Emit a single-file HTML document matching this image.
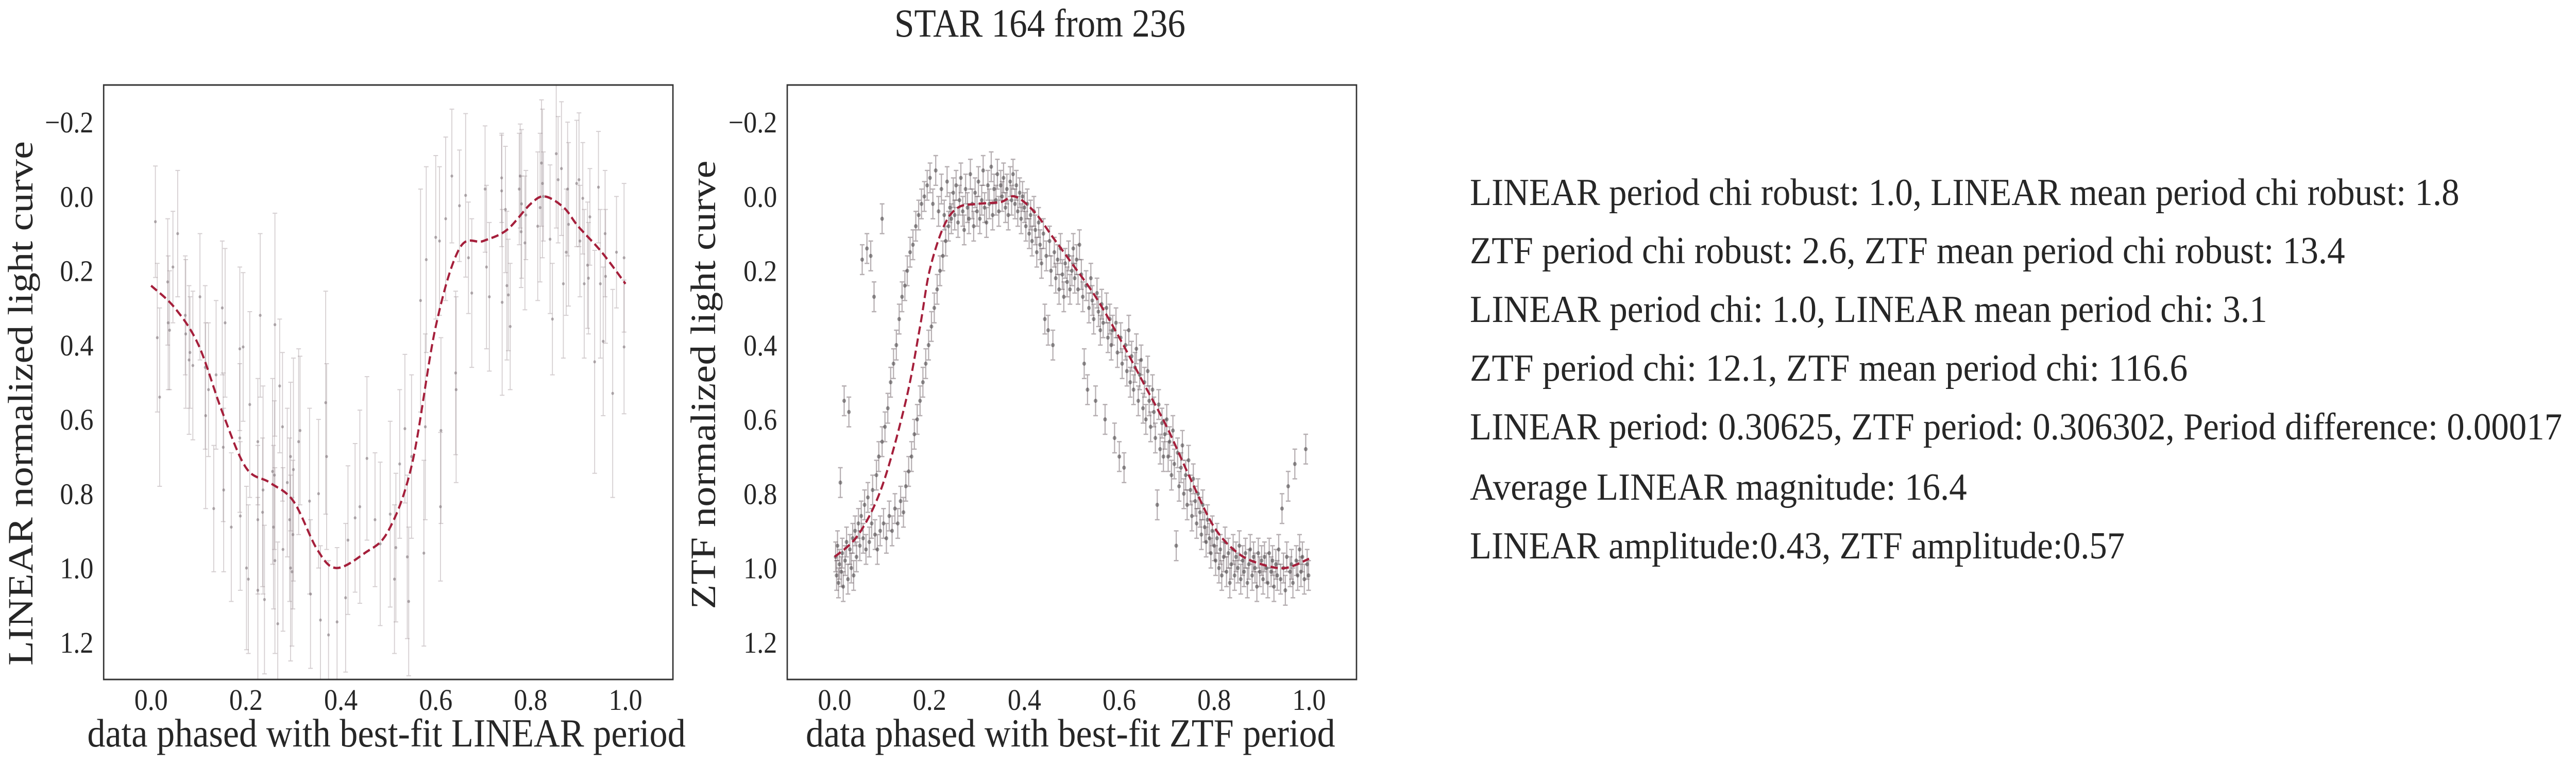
<!DOCTYPE html>
<html><head><meta charset="utf-8"><style>
html,body{margin:0;padding:0;background:#fff;overflow:hidden;width:100%;height:100%;}
svg{display:block;font-family:"Liberation Serif","DejaVu Serif",serif;width:100vw;height:100vh;}
</style></head><body>
<svg id="fig" viewBox="0 0 5566 1485" preserveAspectRatio="none" xmlns="http://www.w3.org/2000/svg">
<rect x="0" y="0" width="5566" height="1485" fill="#fff"/>
<text x="2247" y="71" font-size="77" text-anchor="middle" fill="#262626">STAR 164 from 236</text>
<g id="p1"></g>
<g id="p2"></g>
<g font-size="74" fill="#262626">
<text x="3176" y="398" textLength="2138" lengthAdjust="spacingAndGlyphs">LINEAR period chi robust: 1.0, LINEAR mean period chi robust: 1.8</text>
<text x="3176" y="511" textLength="1891" lengthAdjust="spacingAndGlyphs">ZTF period chi robust: 2.6, ZTF mean period chi robust: 13.4</text>
<text x="3176" y="625" textLength="1723" lengthAdjust="spacingAndGlyphs">LINEAR period chi: 1.0, LINEAR mean period chi: 3.1</text>
<text x="3176" y="739" textLength="1551" lengthAdjust="spacingAndGlyphs">ZTF period chi: 12.1, ZTF mean period chi: 116.6</text>
<text x="3176" y="853" textLength="2360" lengthAdjust="spacingAndGlyphs">LINEAR period: 0.30625, ZTF period: 0.306302, Period difference: 0.00017</text>
<text x="3176" y="970" textLength="1074" lengthAdjust="spacingAndGlyphs">Average LINEAR magnitude: 16.4</text>
<text x="3176" y="1084" textLength="1415" lengthAdjust="spacingAndGlyphs">LINEAR amplitude:0.43, ZTF amplitude:0.57</text>
</g>
</svg>
<script>
// ---------- data ----------
const xTicks = [0.0, 0.2, 0.4, 0.6, 0.8, 1.0];
const xTickLabels = ["0.0", "0.2", "0.4", "0.6", "0.8", "1.0"];
const yTicks = [-0.2, 0.0, 0.2, 0.4, 0.6, 0.8, 1.0, 1.2];
const yTickLabels = ["\u22120.2", "0.0", "0.2", "0.4", "0.6", "0.8", "1.0", "1.2"];

const linPhase = [0.009,0.013,0.018,0.035,0.036,0.039,0.046,0.056,0.072,0.073,0.08,0.082,0.088,0.103,0.114,0.115,0.121,0.132,0.137,0.15,0.152,0.153,0.156,0.169,0.187,0.187,0.188,0.194,0.201,0.205,0.208,0.225,0.225,0.225,0.23,0.235,0.236,0.239,0.256,0.258,0.26,0.261,0.261,0.267,0.271,0.278,0.277,0.287,0.292,0.294,0.294,0.297,0.299,0.3,0.311,0.314,0.334,0.336,0.353,0.357,0.368,0.37,0.374,0.392,0.41,0.415,0.43,0.44,0.455,0.472,0.483,0.504,0.513,0.516,0.524,0.535,0.54,0.543,0.549,0.568,0.575,0.578,0.58,0.6,0.608,0.61,0.611,0.621,0.634,0.642,0.643,0.65,0.663,0.669,0.676,0.704,0.707,0.713,0.739,0.739,0.747,0.74,0.75,0.753,0.757,0.776,0.778,0.78,0.781,0.788,0.79,0.815,0.82,0.823,0.825,0.827,0.841,0.846,0.854,0.858,0.865,0.869,0.875,0.878,0.88,0.897,0.902,0.904,0.91,0.913,0.92,0.922,0.925,0.935,0.943,0.947,0.953,0.957,0.958,0.973,0.981,0.997,0.997];
const linMag = [0.068,0.38,0.54,0.23,0.34,0.36,0.19,0.10,0.32,0.37,0.44,0.42,0.455,0.27,0.46,0.59,0.52,0.84,0.48,0.30,0.675,0.79,0.34,0.89,0.41,0.65,0.86,0.405,1.0,1.03,0.56,0.66,0.87,1.06,0.32,0.85,0.79,1.085,0.74,0.89,0.75,0.98,0.345,1.15,0.51,0.95,0.62,0.77,0.87,0.70,1.0,1.01,0.91,0.735,0.66,0.63,0.82,1.07,0.80,1.14,0.555,0.70,1.18,1.145,1.08,0.925,0.865,0.835,0.705,0.87,0.935,0.855,1.03,0.945,0.72,0.625,0.97,1.09,0.70,0.28,0.96,0.62,0.17,0.11,0.12,0.835,0.63,0.06,-0.055,0.475,0.52,0.025,-0.003,0.165,0.26,-0.02,0.19,0.27,-0.05,-0.015,0.035,0.285,0.24,0.265,0.35,-0.02,-0.055,0.095,0.02,0.125,0.05,0.08,0.03,-0.09,-0.035,0.0,0.115,0.33,-0.115,-0.045,-0.075,0.235,0.15,-0.02,0.075,-0.035,-0.045,0.12,0.005,0.235,0.185,0.22,0.055,0.445,-0.025,0.235,0.39,0.10,0.215,0.53,0.15,0.165,0.405];
const linErr = [0.15,0.2,0.24,0.17,0.18,0.16,0.15,0.17,0.16,0.2,0.2,0.15,0.2,0.17,0.22,0.25,0.18,0.17,0.2,0.18,0.2,0.22,0.2,0.2,0.22,0.2,0.2,0.2,0.22,0.2,0.25,0.17,0.2,0.25,0.22,0.2,0.28,0.2,0.25,0.22,0.2,0.25,0.3,0.22,0.18,0.22,0.2,0.2,0.22,0.2,0.25,0.2,0.2,0.3,0.25,0.2,0.25,0.2,0.2,0.2,0.3,0.25,0.2,0.2,0.2,0.2,0.2,0.26,0.22,0.18,0.22,0.25,0.2,0.2,0.2,0.2,0.22,0.2,0.22,0.3,0.25,0.25,0.25,0.22,0.2,0.2,0.25,0.22,0.18,0.22,0.25,0.15,0.22,0.15,0.2,0.17,0.22,0.2,0.12,0.15,0.17,0.25,0.2,0.15,0.17,0.15,0.14,0.15,0.2,0.18,0.12,0.2,0.2,0.17,0.2,0.12,0.2,0.15,0.2,0.17,0.18,0.2,0.17,0.18,0.22,0.17,0.18,0.15,0.15,0.2,0.17,0.15,0.13,0.3,0.15,0.2,0.2,0.17,0.18,0.28,0.15,0.2,0.18];
const linFitPhase = [0,0.05,0.1,0.15,0.2,0.25,0.3,0.35,0.39,0.45,0.5,0.55,0.6,0.65,0.7,0.75,0.8,0.83,0.87,0.9,0.95,1.0];
const linFitMag = [0.24,0.3,0.4,0.58,0.73,0.77,0.82,0.95,1.0,0.96,0.9,0.72,0.35,0.14,0.12,0.09,0.02,0.0,0.03,0.08,0.15,0.235];

const ztfPhase = [0.002,0.004,0.006,0.008,0.01,0.012,0.014,0.016,0.018,0.02,0.022,0.025,0.028,0.03,0.032,0.035,0.038,0.04,0.043,0.046,0.05,
0.053,0.056,0.058,0.06,0.063,0.066,0.068,0.07,0.073,0.076,0.078,0.08,0.083,0.085,0.088,0.09,0.093,0.096,0.1,0.1,
0.103,0.106,0.109,0.112,0.115,0.118,0.121,0.124,0.127,0.13,0.133,0.136,0.139,0.142,0.145,0.148,0.15,
0.153,0.156,0.159,0.162,0.165,0.168,0.171,0.174,0.177,0.18,0.183,0.186,0.189,0.192,0.195,0.198,
0.201,0.204,0.207,0.21,0.213,0.216,0.219,0.222,0.225,0.228,0.231,0.234,0.237,0.24,0.243,0.246,0.25,
0.253,0.256,0.26,0.263,0.266,0.27,0.273,0.276,0.28,0.283,0.286,0.29,0.293,0.296,0.3,0.303,0.306,0.31,0.313,0.316,0.32,0.323,0.326,0.33,0.333,0.336,0.34,0.343,0.346,0.35,0.353,0.356,0.36,0.363,0.366,0.37,0.373,0.376,0.38,0.383,0.386,0.39,0.393,0.396,0.4,
0.403,0.406,0.41,0.413,0.416,0.42,0.423,0.426,0.43,0.433,0.436,0.44,0.443,0.446,0.45,0.453,0.456,0.46,0.463,0.466,0.47,0.473,0.476,0.48,0.483,0.486,0.49,0.493,0.496,0.5,
0.503,0.506,0.51,0.513,0.516,0.52,0.523,0.526,0.53,0.533,0.536,0.54,0.543,0.546,0.55,0.553,0.556,0.56,0.563,0.566,0.57,0.573,0.576,0.58,0.583,0.586,0.59,0.593,0.596,0.6,
0.603,0.606,0.61,0.613,0.616,0.62,0.623,0.626,0.63,0.633,0.636,0.64,0.643,0.646,0.65,0.653,0.656,0.66,0.663,0.666,0.67,0.673,0.676,0.68,0.683,0.686,0.69,0.693,0.696,0.7,
0.703,0.706,0.71,0.713,0.716,0.72,0.723,0.726,0.73,0.733,0.736,0.74,0.743,0.746,0.75,0.753,0.756,0.76,0.763,0.766,0.77,0.773,0.776,0.78,0.783,0.786,0.79,0.793,0.796,0.8,
0.803,0.806,0.81,0.813,0.816,0.82,0.823,0.826,0.83,0.833,0.836,0.84,0.843,0.846,0.85,0.853,0.856,0.86,0.863,0.866,0.87,0.873,0.876,0.88,0.883,0.886,0.89,0.893,0.896,0.9,
0.903,0.906,0.91,0.913,0.916,0.92,0.923,0.926,0.93,0.933,0.936,0.94,0.943,0.946,0.95,0.953,0.956,0.96,0.963,0.966,0.97,0.973,0.976,0.98,0.983,0.986,0.99,0.993,0.996,0.999];
const ztfMag = [0.97,1.02,0.94,1.04,0.99,0.77,1.01,0.96,1.05,0.55,0.98,0.93,1.03,0.58,0.95,1.0,0.92,1.02,0.9,0.97,0.88,
0.94,0.86,0.17,0.92,0.83,0.95,0.14,0.81,0.93,0.16,0.88,0.79,0.27,0.91,0.75,0.95,0.7,0.9,0.06,0.66,
0.88,0.62,0.92,0.57,0.86,0.5,0.9,0.45,0.84,0.4,0.88,0.33,0.82,0.27,0.85,0.24,0.78,
0.2,0.74,0.15,0.7,0.13,0.64,0.08,0.6,0.05,0.55,0.02,0.5,0.0,0.45,-0.03,0.4,
-0.05,0.35,0.02,0.3,-0.07,0.25,0.04,0.2,-0.02,0.16,0.05,0.12,-0.04,0.08,0.03,0.06,-0.01,
0.05,-0.03,0.07,0.01,-0.05,0.04,0.09,-0.02,0.03,0.06,-0.06,0.02,0.08,-0.01,0.04,-0.04,0.06,0.01,-0.07,0.03,0.07,-0.03,0.02,-0.08,0.05,-0.02,0.01,-0.06,0.04,-0.03,0.0,-0.05,0.03,-0.02,0.05,-0.04,0.01,-0.06,0.02,-0.03,0.04,-0.01,0.06,0.0,0.03,
0.08,0.02,0.1,0.05,0.12,0.04,0.09,0.15,0.07,0.13,0.18,0.1,0.33,0.16,0.36,0.12,0.2,0.4,0.15,0.22,0.17,0.25,0.14,0.21,0.27,0.18,0.23,0.16,0.25,0.2,
0.14,0.22,0.17,0.25,0.13,0.21,0.27,0.45,0.24,0.52,0.3,0.22,0.28,0.33,0.55,0.26,0.31,0.36,0.29,0.34,0.6,0.3,0.38,0.33,0.4,0.36,0.65,0.34,0.42,0.7,
0.38,0.45,0.73,0.4,0.47,0.36,0.5,0.43,0.52,0.46,0.41,0.55,0.48,0.44,0.57,0.5,0.6,0.47,0.55,0.62,0.52,0.58,0.65,0.83,0.56,0.68,0.61,0.7,0.64,0.6,
0.7,0.66,0.75,0.63,0.72,0.94,0.69,0.78,0.73,0.67,0.8,0.75,0.83,0.71,0.79,0.86,0.76,0.82,0.88,0.8,0.85,0.91,0.83,0.89,0.93,0.87,0.92,0.96,0.9,0.94,
0.98,0.92,1.0,0.95,1.02,0.97,0.93,1.01,0.96,1.04,0.99,0.95,1.02,0.97,1.0,0.94,1.03,0.98,1.01,0.96,1.04,0.99,0.95,1.02,0.97,1.0,1.05,0.96,1.01,0.98,
1.03,0.97,1.0,1.04,0.96,1.01,0.98,1.05,0.99,1.02,0.95,1.03,0.84,1.0,1.06,0.97,0.78,1.01,0.99,1.04,0.72,0.98,1.02,0.95,1.01,0.97,1.03,0.68,0.99,1.02];
const ztfErr = 0.04;
const ztfFitPhase = [0,0.05,0.1,0.15,0.18,0.2,0.23,0.26,0.3,0.35,0.38,0.42,0.46,0.5,0.55,0.6,0.65,0.7,0.75,0.8,0.85,0.9,0.95,1.0];
const ztfFitMag = [0.97,0.91,0.78,0.55,0.35,0.2,0.08,0.03,0.02,0.015,0.0,0.04,0.11,0.18,0.27,0.38,0.5,0.62,0.76,0.89,0.96,0.99,1.0,0.975];

// ---------- drawing ----------
const NS = "http://www.w3.org/2000/svg";
function mk(tag, attrs, parent){ const e=document.createElementNS(NS,tag); for(const k in attrs) e.setAttribute(k,attrs[k]); parent.appendChild(e); return e; }

function smoothPath(pts){
  let d = "M"+pts[0][0].toFixed(1)+","+pts[0][1].toFixed(1);
  for(let i=0;i<pts.length-1;i++){
    const p0=pts[Math.max(i-1,0)], p1=pts[i], p2=pts[i+1], p3=pts[Math.min(i+2,pts.length-1)];
    const c1=[p1[0]+(p2[0]-p0[0])/6, p1[1]+(p2[1]-p0[1])/6];
    const c2=[p2[0]-(p3[0]-p1[0])/6, p2[1]-(p3[1]-p1[1])/6];
    d += " C"+c1[0].toFixed(1)+","+c1[1].toFixed(1)+" "+c2[0].toFixed(1)+","+c2[1].toFixed(1)+" "+p2[0].toFixed(1)+","+p2[1].toFixed(1);
  }
  return d;
}

function panel(g, outer, L, R, T, B, phase, mag, errs, fitP, fitM, xlabel, xLabelLen, xLabelCx, ptStyle){
  const xs = v => L + (v + 0.1) / 1.2 * (R - L);
  const ys = v => T + (v + 0.3) / 1.6 * (B - T);
  const data = mk("g", {}, g);
  
  
  for(let i=0;i<phase.length;i++){
    const e = Array.isArray(errs) ? errs[i] : errs;
    const x = xs(phase[i]), y = ys(mag[i]), y1 = ys(mag[i]-e), y2 = ys(mag[i]+e);
    const eb = mk("path", {d:"M"+x+","+y1+"V"+y2+"M"+(x-ptStyle.cap)+","+y1+"h"+(2*ptStyle.cap)+"M"+(x-ptStyle.cap)+","+y2+"h"+(2*ptStyle.cap), stroke:ptStyle.err, "stroke-width":ptStyle.ew, fill:"none"}, data);
    
    
    const c = mk("circle", {cx:x, cy:y, r:ptStyle.r, fill:ptStyle.fill}, data);
    
    
  }
  const pts = fitP.map((p,i)=>[xs(p), ys(fitM[i])]);
  const fit = mk("path", {d:smoothPath(pts), fill:"none", stroke:"#a51f3b", "stroke-width":4.5, "stroke-dasharray":"16,8"}, g);
  
  
  const frame = mk("rect", {x:L, y:T, width:R-L, height:B-T, fill:"none", stroke:"#333", "stroke-width":3}, outer);
  
  
  xTicks.forEach((t,i)=>{
    const tx = mk("text", {x:xs(t), y:B+59, "font-size":58, "text-anchor":"middle", fill:"#262626"}, outer);
    tx.textContent = xTickLabels[i];
    
    
  });
  yTicks.forEach((t,i)=>{
    const ty = mk("text", {x:L-22, y:ys(t)+20, "font-size":58, "text-anchor":"end", fill:"#262626"}, outer);
    ty.textContent = yTickLabels[i];
    
    
  });
  const xl = mk("text", {x:xLabelCx, y:1449, "font-size":77, "text-anchor":"middle", fill:"#262626", textLength:xLabelLen, lengthAdjust:"spacingAndGlyphs"}, outer);
  xl.textContent = xlabel;
  
  
}

const clipDefs = mk("defs", {}, document.getElementById("fig"));
function clipFor(id,L,R,T,B){ const c=mk("clipPath",{id:id},clipDefs); mk("rect",{x:L,y:T,width:R-L,height:B-T},c); }
clipFor("c1",224,1454,165,1319);
clipFor("c2",1701,2931,165,1319);

const g1 = document.getElementById("p1");
const g2 = document.getElementById("p2");
const d1 = mk("g", {"clip-path":"url(#c1)"}, g1);
const d2 = mk("g", {"clip-path":"url(#c2)"}, g2);

panel(d1, g1, 224, 1454, 165, 1319, linPhase, linMag, linErr, linFitPhase, linFitMag,
  "data phased with best-fit LINEAR period", 1293, 835, {r:3, fill:"rgba(120,110,115,0.55)", err:"rgba(150,135,140,0.4)", ew:2, cap:5});
panel(d2, g2, 1701, 2931, 165, 1319, ztfPhase, ztfMag, ztfErr, ztfFitPhase, ztfFitMag,
  "data phased with best-fit ZTF period", 1144, 2313, {r:4, fill:"rgba(50,45,48,0.5)", err:"rgba(110,95,102,0.5)", ew:2.5, cap:5});

const yl1 = mk("text", {x:0, y:0, "font-size":77, "text-anchor":"middle", fill:"#262626", transform:"translate(70,783) rotate(-90)", textLength:1018, lengthAdjust:"spacingAndGlyphs"}, g1);
yl1.textContent = "LINEAR normalized light curve";


const yl2 = mk("text", {x:0, y:0, "font-size":77, "text-anchor":"middle", fill:"#262626", transform:"translate(1545,747) rotate(-90)", textLength:871, lengthAdjust:"spacingAndGlyphs"}, g2);
yl2.textContent = "ZTF normalized light curve";


</script>
</body></html>
